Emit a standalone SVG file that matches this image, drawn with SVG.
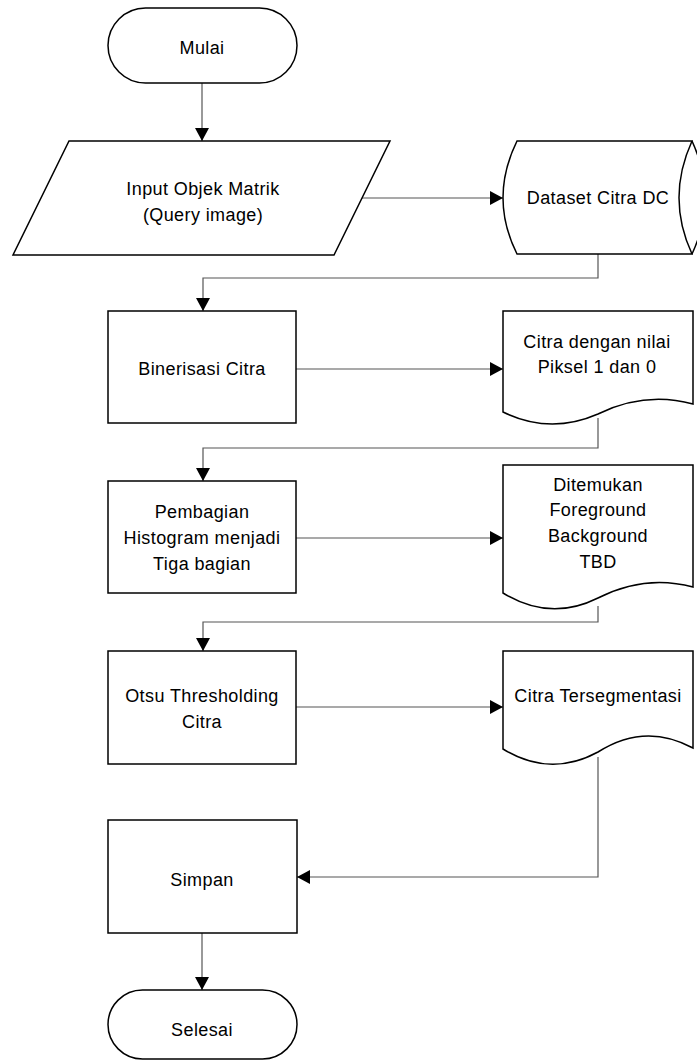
<svg xmlns="http://www.w3.org/2000/svg" width="697" height="1061" viewBox="0 0 697 1061">
<defs>
<style>
.s{fill:#fff;stroke:#000;stroke-width:1.5}
.t{font-family:"Liberation Sans",Arial,sans-serif;font-size:18px;letter-spacing:0.4px;fill:#000;text-anchor:middle;dominant-baseline:central}
.c{fill:none;stroke:#555;stroke-width:1.2}
</style>
<marker id="ah" markerWidth="14" markerHeight="14" refX="13" refY="7" orient="auto" markerUnits="userSpaceOnUse">
<path d="M0,0 L13,7 L0,14 Z" fill="#000"/>
</marker>
</defs>
<rect width="697" height="1061" fill="#fff"/>
<g id="connectors">
<path class="c" d="M202,83 V141" marker-end="url(#ah)"/>
<path class="c" d="M362,198 H503" marker-end="url(#ah)"/>
<path class="c" d="M598,254 V278 H203 V311" marker-end="url(#ah)"/>
<path class="c" d="M296,369 H503" marker-end="url(#ah)"/>
<path class="c" d="M598,418 V448 H203 V481" marker-end="url(#ah)"/>
<path class="c" d="M296,538 H503" marker-end="url(#ah)"/>
<path class="c" d="M598,606 V622 H203 V651" marker-end="url(#ah)"/>
<path class="c" d="M296,707 H503" marker-end="url(#ah)"/>
<path class="c" d="M598,757 V877 H297" marker-end="url(#ah)"/>
<path class="c" d="M202,933 V990" marker-end="url(#ah)"/>
</g>
<g id="mulai">
<rect class="s" x="108" y="8" width="189" height="75" rx="37.5" ry="37.5"/>
<text class="t" x="202" y="48">Mulai</text>
</g>
<g id="input">
<path class="s" d="M69,141 H390 L334,255 H13 Z"/>
<text class="t" x="203" y="189">Input Objek Matrik</text>
<text class="t" x="203" y="215">(Query image)</text>
</g>
<g id="dataset">
<path class="s" d="M517,141 H692 Q666,198 692,254 H517 Q489,198 517,141 Z"/>
<path class="s" d="M692,141 Q718,198 692,254" />
<text class="t" x="598" y="198">Dataset Citra DC</text>
</g>
<g id="binerisasi">
<rect class="s" x="108" y="311" width="188" height="112"/>
<text class="t" x="202" y="369">Binerisasi Citra</text>
</g>
<g id="citra-biner">
<path class="s" d="M503,311 H693 V404 Q645,391 598,414 Q550,435 503,412 Z"/>
<text class="t" x="597" y="342">Citra dengan nilai</text>
<text class="t" x="597" y="367">Piksel 1 dan 0</text>
</g>
<g id="pembagian">
<rect class="s" x="108" y="481" width="188" height="112"/>
<text class="t" x="202" y="512">Pembagian</text>
<text class="t" x="202" y="538">Histogram menjadi</text>
<text class="t" x="202" y="564">Tiga bagian</text>
</g>
<g id="ditemukan">
<path class="s" d="M503,465 H693 V587 Q645,574 598,598 Q550,622 503,593 Z"/>
<text class="t" x="598" y="485">Ditemukan</text>
<text class="t" x="598" y="510">Foreground</text>
<text class="t" x="598" y="536">Background</text>
<text class="t" x="598" y="562">TBD</text>
</g>
<g id="otsu">
<rect class="s" x="108" y="651" width="188" height="113"/>
<text class="t" x="202" y="696">Otsu Thresholding</text>
<text class="t" x="202" y="722">Citra</text>
</g>
<g id="tersegmentasi">
<path class="s" d="M503,651 H693 V748 Q645,722 598,752 Q550,778 503,749 Z"/>
<text class="t" x="598" y="696">Citra Tersegmentasi</text>
</g>
<g id="simpan">
<rect class="s" x="108" y="820" width="189" height="113"/>
<text class="t" x="202" y="880">Simpan</text>
</g>
<g id="selesai">
<rect class="s" x="108" y="990" width="189" height="69" rx="34.5" ry="34.5"/>
<text class="t" x="202" y="1030">Selesai</text>
</g>
</svg>
